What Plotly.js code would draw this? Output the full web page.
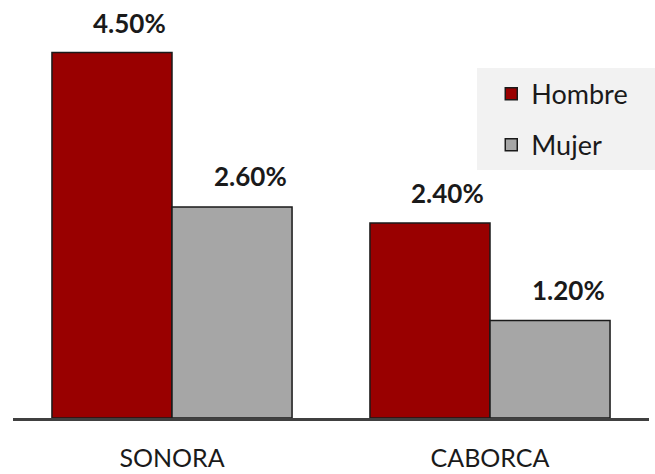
<!DOCTYPE html>
<html>
<head>
<meta charset="utf-8">
<script src="https://cdn.plot.ly/plotly-3.0.1.min.js"></script>
<style>html,body{margin:0;padding:0;background:#fff}#chart{width:655px;height:474px}</style>
</head>
<body>
<div id="chart"></div>
<script>
const categories = ["SONORA", "CABORCA"];
const hombre = [4.50, 2.40];
const mujer = [2.60, 1.20];
const hombreLabels = ["4.50%", "2.40%"];
const mujerLabels = ["2.60%", "1.20%"];

const FONT = "Lato, 'Open Sans', sans-serif";
const bargap = 0.245;
const half = (1 - bargap) / 4;

const traces = [
  {type: "bar", name: "Hombre", x: categories, y: hombre, legendgroup: "h",
   marker: {color: "#990000", line: {color: "#1a1a1a", width: 1.5}}, hoverinfo: "none"},
  {type: "bar", name: "Mujer", x: categories, y: mujer, legendgroup: "m",
   marker: {color: "#a6a6a6", line: {color: "#1a1a1a", width: 1.5}}, hoverinfo: "none"}
];

const labelFont = {family: FONT, size: 26, color: "#1a1a1a"};
const annotations = [];
categories.forEach((c, i) => {
  annotations.push({x: i - half, y: hombre[i], xref: "x", yref: "y", text: "<b>" + hombreLabels[i] + "</b>",
    showarrow: false, yanchor: "bottom", xshift: 18, yshift: 12, font: labelFont});
  annotations.push({x: i + half, y: mujer[i], xref: "x", yref: "y", text: "<b>" + mujerLabels[i] + "</b>",
    showarrow: false, yanchor: "bottom", xshift: 18, yshift: 13, font: labelFont});
});

const layout = {
  width: 655, height: 474,
  margin: {l: 13, r: 6, t: 12, b: 56, pad: 0},
  paper_bgcolor: "#ffffff", plot_bgcolor: "#ffffff",
  barmode: "group", bargap: bargap, bargroupgap: 0,
  font: {family: FONT, color: "#1a1a1a"},
  xaxis: {showline: true, linecolor: "#404040", linewidth: 3, ticks: "", showgrid: false,
          tickfont: {family: FONT, size: 25, color: "#1a1a1a"}, ticklabelstandoff: 16},
  yaxis: {visible: false, range: [0, 5], showgrid: false, zeroline: false},
  showlegend: true,
  legend: {x: 0.752, y: 0.858, xanchor: "left", yanchor: "top", bgcolor: "rgba(0,0,0,0)",
           font: {family: FONT, size: 27, color: "#1a1a1a"}, traceorder: "grouped", tracegroupgap: 13},
  shapes: [{type: "rect", xref: "paper", yref: "paper", x0: (477 - 13) / 636, x1: 1.01, y0: (418 - 170) / 406, y1: (418 - 68) / 406,
            fillcolor: "#f2f2f2", line: {width: 0}, layer: "below"}],
  annotations: annotations
};

Plotly.newPlot("chart", traces, layout, {displayModeBar: false, staticPlot: true});
</script>
</body>
</html>
